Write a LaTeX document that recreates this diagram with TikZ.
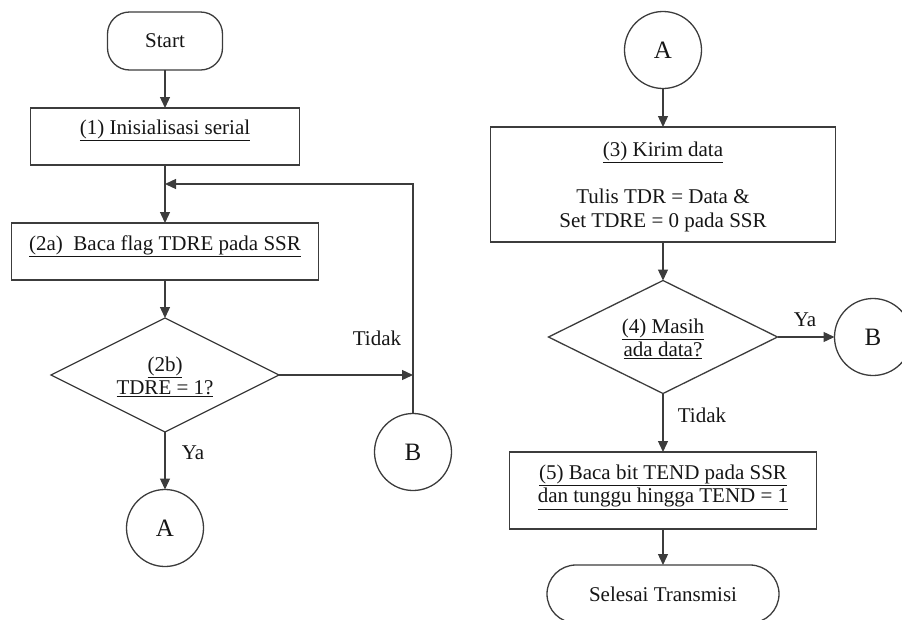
\documentclass[tikz,border=0pt]{standalone}
\usepackage{fontspec}
\setmainfont{Liberation Serif}
\usetikzlibrary{shapes.geometric,arrows.meta}
\definecolor{linegray}{HTML}{3C3C3C}
\definecolor{inkblack}{HTML}{151515}
\begin{document}
\begin{tikzpicture}[x=1pt,y=-1pt,
  every node/.style={font=\fontsize{21}{23.5}\selectfont, text=inkblack, inner sep=0pt, outer sep=0pt},
  flow/.style={draw=linegray, line width=1.3pt},
  arrow/.style={flow, -{Triangle[length=11pt,width=10pt]}},
  procbox/.style={flow, rectangle},
  terminal/.style={flow, rectangle, rounded corners=22pt},
  decision/.style={flow, diamond},
  connector/.style={flow, circle, minimum size=77pt, font=\fontsize{25}{28}\selectfont},
  txt/.style={align=center},
  lbl/.style={}
]
\useasboundingbox (0,0) rectangle (902,619);

% ---- left column: initialisation and TDRE polling ----
\node[terminal, minimum width=115pt, minimum height=58pt] (start) at (165,41) {Start};
\node[procbox, minimum width=269pt, minimum height=57pt] (b1) at (165,136.5) {};
\node[txt] (t1) at (165,130) {\underline{(1) Inisialisasi serial}};
\node[procbox, minimum width=307pt, minimum height=57pt] (b2) at (165,251.5) {};
\node[txt] (t2) at (165,246) {\underline{(2a)\ \ Baca flag TDRE pada SSR}};
\node[decision, minimum width=228pt, minimum height=114pt] (d1) at (165,375) {};
\node[txt] (t3) at (165,377) {\underline{(2b)}\\\underline{TDRE = 1?}};
\node[connector] (a1) at (165,528) {A};
\node[connector] (bl) at (413,452) {B};
\node[lbl] (tidak1) at (377,338) {Tidak};
\node[lbl] (ya1) at (193,453) {Ya};
\coordinate (j1) at (165,184);

\draw[arrow] (start.south) -- (b1.north);
\draw[arrow] (b1.south) -- (b2.north);
\draw[arrow] (b2.south) -- (d1.north);
\draw[arrow] (d1.south) -- (a1.north);
\draw[arrow] (d1.east) -- (d1.east -| bl.north);
\draw[arrow] (bl.north) |- (j1);

% ---- right column: sending data ----
\node[connector] (a2) at (663,50) {A};
\node[procbox, minimum width=345pt, minimum height=115pt] (b3) at (663,184.5) {};
\node[txt] (t4) at (663,187) {\underline{(3) Kirim data}\\[23.5pt]Tulis TDR = Data \&\\Set TDRE = 0 pada SSR};
\node[decision, minimum width=229pt, minimum height=113pt] (d2) at (663,337) {};
\node[txt] (t5) at (663,339) {\underline{(4) Masih}\\\underline{ada data?}};
\node[connector] (b2c) at (873,337) {B};
\node[lbl] (ya2) at (805,320) {Ya};
\node[lbl] (tidak2) at (702,415) {Tidak};
\node[procbox, minimum width=307pt, minimum height=77pt] (b5) at (663,490.5) {};
\node[txt] (t6) at (663,487) {\underline{(5) Baca bit TEND pada SSR}\\\underline{dan tunggu hingga TEND = 1}};
\node[terminal, minimum width=232pt, minimum height=58pt, rounded corners=29pt] (finish) at (663,594) {Selesai Transmisi};

\draw[arrow] (a2.south) -- (b3.north);
\draw[arrow] (b3.south) -- (d2.north);
\draw[arrow] (d2.east) -- (b2c.west);
\draw[arrow] (d2.south) -- (b5.north);
\draw[arrow] (b5.south) -- (finish.north);
\end{tikzpicture}
\end{document}
